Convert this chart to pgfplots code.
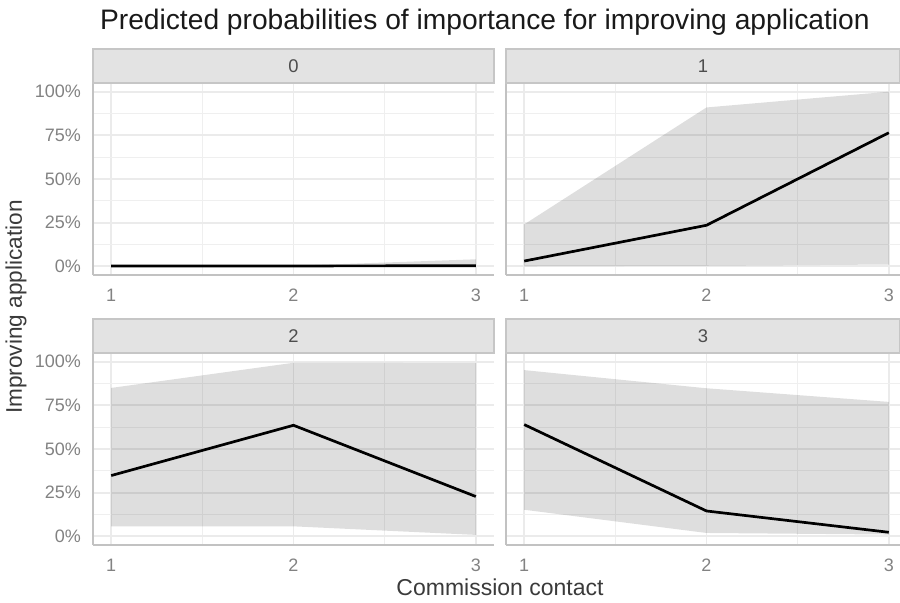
\documentclass[border=0pt]{standalone}
\usepackage{pgfplots}
\pgfplotsset{compat=1.18}
\usepackage{fontspec}
\setmainfont{Liberation Sans}
\definecolor{gridmaj}{HTML}{EBEBEB}
\definecolor{gridmin}{HTML}{EFEFEF}
\definecolor{axgray}{HTML}{C2C2C2}
\definecolor{tickgray}{HTML}{828282}
\definecolor{titlegray}{HTML}{3A3A3A}
\definecolor{stripfill}{HTML}{E3E3E3}
\definecolor{stripborder}{HTML}{C6C6C6}
\definecolor{striptext}{HTML}{4D4D4D}
\pgfplotsset{
  facet/.style={
    scale only axis,
    height=96pt,
    ymin=-5, ymax=105,
    xmin=0.9,
    xtick={1,2,3},
    ytick={0,25,50,75,100},
    minor xtick={1.5,2.5},
    minor ytick={12.5,37.5,62.5,87.5},
    grid=both,
    major grid style={draw=gridmaj, line width=0.9pt},
    minor grid style={draw=gridmin, line width=0.6pt},
    axis x line*=bottom,
    axis y line*=left,
    axis line style={-, draw=axgray, line width=0.7pt},
    tick style={draw=none},
    major tick length=0pt,
    minor tick length=0pt,
    /pgf/number format/assume math mode=true,
    tick label style={font=\fontsize{9}{10}\selectfont, text=tickgray},
    xticklabel style={anchor=north, yshift=-3.5pt},
    yticklabel style={anchor=east, xshift=-2.5pt},
    clip=false,
  },
  leftfacet/.style={facet, width=200.5pt, xmax=3.1,
    yticklabel={\pgfmathprintnumber{\tick}\%}},
  rightfacet/.style={facet, width=197pt, xmax=3.0616, yticklabels={}},
  ribbon/.style={fill=black, fill opacity=0.13, draw=none},
  est/.style={black, line width=1.35pt, no markers},
}
\newcommand{\strip}[2]{%
  \draw[fill=stripfill, draw=stripborder, line width=0.6pt]
    (#1.north west) rectangle ([yshift=17pt]#1.north east);
  \node[font=\fontsize{9.2}{10}\selectfont, text=striptext]
    at ([yshift=8.5pt]#1.north) {#2};
}
\begin{document}
\begin{tikzpicture}
\useasboundingbox (0pt,0pt) rectangle (450pt,-301pt);

% Panel 0
\begin{axis}[leftfacet, name=p0, at={(46.5pt,-137.5pt)}, anchor=south west]
  \addplot[ribbon] coordinates {(1,0.2) (2,0.3) (3,4) (3,0) (2,0) (1,0)} -- cycle;
  \addplot[est] coordinates {(1,0.2) (2,0.2) (3,0.3)};
\end{axis}

% Panel 1
\begin{axis}[rightfacet, name=p1, at={(253pt,-137.5pt)}, anchor=south west]
  \addplot[ribbon] coordinates {(1,24) (2,91) (3,100) (3,1) (2,0.3) (1,0)} -- cycle;
  \addplot[est] coordinates {(1,3) (2,23.5) (3,76.5)};
\end{axis}

% Panel 2
\begin{axis}[leftfacet, name=p2, at={(46.5pt,-272.5pt)}, anchor=south west]
  \addplot[ribbon] coordinates {(1,85) (2,99.4) (3,99.2) (3,0.8) (2,5.7) (1,5.7)} -- cycle;
  \addplot[est] coordinates {(1,34.8) (2,63.6) (3,22.8)};
\end{axis}

% Panel 3
\begin{axis}[rightfacet, name=p3, at={(253pt,-272.5pt)}, anchor=south west]
  \addplot[ribbon] coordinates {(1,95.2) (2,84.8) (3,77) (3,1) (2,1.9) (1,15.2)} -- cycle;
  \addplot[est] coordinates {(1,64) (2,14.5) (3,2.3)};
\end{axis}

\strip{p0}{0}
\strip{p1}{1}
\strip{p2}{2}
\strip{p3}{3}

\node[anchor=base west, font=\fontsize{14.1}{16}\selectfont, text=black!90]
  at (46.5pt,-14.5pt) {Predicted probabilities of importance for improving application};
\node[rotate=90, font=\fontsize{11.3}{13}\selectfont, text=titlegray]
  at (8pt,-153.5pt) {Improving application};
\node[anchor=base, font=\fontsize{11.5}{13}\selectfont, text=titlegray]
  at (250pt,-297.5pt) {Commission contact};
\end{tikzpicture}
\end{document}
